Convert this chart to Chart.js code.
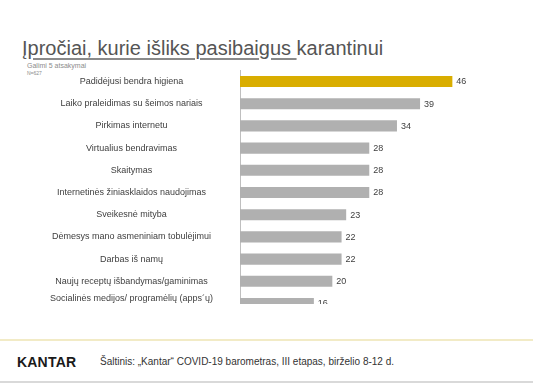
<!DOCTYPE html>
<html>
<head>
<meta charset="utf-8">
<script src="https://cdn.jsdelivr.net/npm/chart.js@4.4.1/dist/chart.umd.min.js"></script>
<style>
  html, body { margin:0; padding:0; background:#fff; }
  body { width:533px; height:383px; position:relative; overflow:hidden; font-family:"Liberation Sans", Arial, sans-serif; }
  .abs { position:absolute; white-space:nowrap; }
  #title { left:22px; top:38px; font-size:20px; line-height:20px; color:#555; }
  #title .u { text-decoration: underline; text-decoration-color:#8a8a8a; text-decoration-thickness:2px; text-underline-offset:3px; }
  #sub1 { left:27px; top:62px; font-size:7px; line-height:8px; color:#8c8c8c; }
  #sub2 { left:27px; top:70px; font-size:5px; line-height:6px; color:#8c8c8c; }
  #wrap { left:0; top:0; width:533px; height:304px; overflow:hidden; }
  #box { position:relative; width:533px; height:347px; }
  #yl { left:0; top:339px; width:533px; height:2px; background:#f2ebc6; }
  #gl { left:0; top:381px; width:533px; height:2px; background:#d9d9d9; }
  #logo { left:17px; top:354px; font-size:14px; line-height:16px; font-weight:bold; color:#1a1a1a; letter-spacing:0.2px; }
  #src { left:100px; top:356px; font-size:10px; line-height:12px; color:#333; }
</style>
</head>
<body>
<div id="title" class="abs"><span class="u">Įpročiai, kurie išliks pasibaigus&nbsp;</span>karantinui</div>
<div id="sub1" class="abs">Galimi 5 atsakymai</div>
<div id="sub2" class="abs">N=627</div>
<div id="wrap" class="abs"><div id="box"><canvas id="c"></canvas></div></div>
<div id="yl" class="abs"></div>
<div id="logo" class="abs">KANTAR</div>
<div id="src" class="abs">Šaltinis: „Kantar“ COVID-19 barometras, III etapas, birželio 8-12 d.</div>
<div id="gl" class="abs"></div>
<script>
const categories = [
  "Padidėjusi bendra higiena",
  "Laiko praleidimas su šeimos nariais",
  "Pirkimas internetu",
  "Virtualius bendravimas",
  "Skaitymas",
  "Internetinės žiniasklaidos naudojimas",
  "Sveikesnė mityba",
  "Dėmesys mano asmeniniam tobulėjimui",
  "Darbas iš namų",
  "Naujų receptų išbandymas/gaminimas",
  ["Socialinės medijos/ programėlių (apps´ų)", "naudojimas"]
];
const values = [46, 39, 34, 28, 28, 28, 23, 22, 22, 20, 16];
const highlightIndex = 0;

const barColors = values.map((v, i) => i === highlightIndex ? '#d9ad00' : '#b0b0b0');

const valueLabels = {
  id: 'valueLabels',
  afterDatasetsDraw(chart) {
    const ctx = chart.ctx;
    const meta = chart.getDatasetMeta(0);
    ctx.save();
    ctx.font = '9px "Liberation Sans", Arial, sans-serif';
    ctx.fillStyle = '#404040';
    ctx.textAlign = 'left';
    ctx.textBaseline = 'middle';
    meta.data.forEach((bar, i) => {
      ctx.fillText(String(values[i]), bar.x + 4, bar.y + 0.5);
    });
    ctx.restore();
  }
};

new Chart(document.getElementById('c'), {
  type: 'bar',
  data: {
    labels: categories,
    datasets: [{
      data: values,
      backgroundColor: barColors,
      borderWidth: 0,
      categoryPercentage: 1.0,
      barPercentage: 0.5
    }]
  },
  options: {
    indexAxis: 'y',
    responsive: true,
    maintainAspectRatio: false,
    animation: false,
    layout: { padding: { left: 47, right: 16, top: 70.4, bottom: 10 } },
    plugins: { legend: { display: false }, tooltip: { enabled: false }, title: { display: false } },
    scales: {
      x: {
        display: false,
        min: 0,
        max: 60
      },
      y: {
        grid: { display: false, drawTicks: false },
        border: { display: true, color: '#bfbfbf', width: 1 },
        ticks: {
          crossAlign: 'center',
          padding: 27,
          color: '#404040',
          font: { family: '"Liberation Sans", Arial, sans-serif', size: 9 },
          autoSkip: false
        },
        afterFit(scale) { scale.width = 193; }
      }
    }
  },
  plugins: [valueLabels]
});
</script>
</body>
</html>
